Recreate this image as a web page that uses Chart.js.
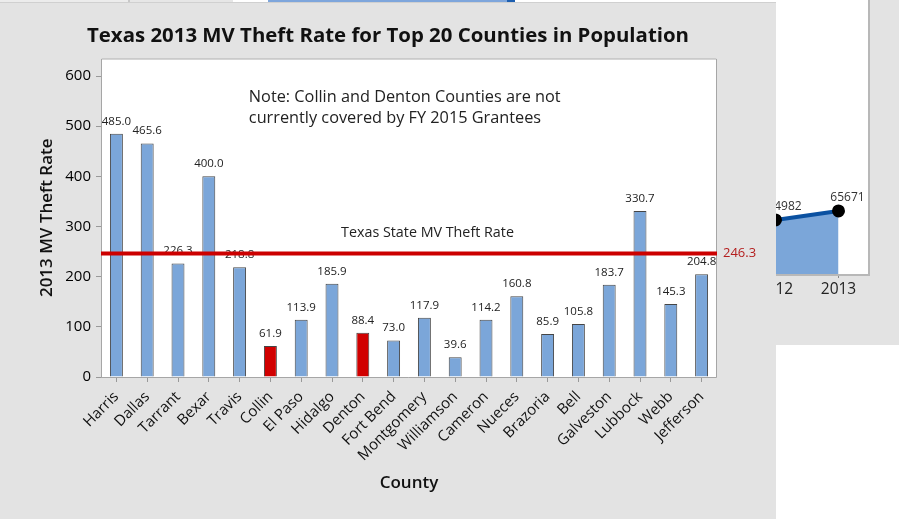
<!DOCTYPE html>
<html lang="en">
<head>
<meta charset="UTF-8">
<title>Texas 2013 MV Theft Rate</title>
<script src="https://cdn.jsdelivr.net/npm/chart.js@4"></script>
<style>
  body { margin:0; width:899px; height:519px; position:relative; overflow:hidden; background:#fff; font-family:'Open Sans', sans-serif; }
  .strip { position:absolute; top:0; height:3px; }
  #back { position:absolute; left:640px; top:0; width:259px; height:345px; background:#e3e3e3; }
  #main { position:absolute; left:0; top:2px; width:776px; height:517px; background:#e3e3e3; border-top:1px solid #d0d0d0; box-sizing:border-box; }
  canvas { display:block; }
</style>
</head>
<body>
<div class="strip" style="left:0;width:128px;background:#ececec"></div>
<div class="strip" style="left:128px;width:2px;background:#c8c8c8"></div>
<div class="strip" style="left:130px;width:103px;background:#e6e6e6"></div>
<div class="strip" style="left:268px;width:239px;background:#7ea6dc"></div>
<div class="strip" style="left:507px;width:8px;background:#1d5fb0"></div>

<div id="back"><canvas id="trendChart" width="259" height="345"></canvas></div>
<div class="strip" style="left:640px;width:136px;background:#fff"></div>
<div id="main"><canvas id="theftChart" width="776" height="516"></canvas></div>

<script>
// --- data ---
const counties = ['Harris', 'Dallas', 'Tarrant', 'Bexar', 'Travis', 'Collin', 'El Paso', 'Hidalgo', 'Denton', 'Fort Bend',
  'Montgomery', 'Williamson', 'Cameron', 'Nueces', 'Brazoria', 'Bell', 'Galveston', 'Lubbock', 'Webb', 'Jefferson'];
const theftRates = [485.0, 465.6, 226.3, 400.0, 218.8, 61.9, 113.9, 185.9, 88.4, 73.0,
  117.9, 39.6, 114.2, 160.8, 85.9, 105.8, 183.7, 330.7, 145.3, 204.8];
const notCovered = ['Collin', 'Denton'];
const stateRate = 246.3;
const yTicks = [0, 100, 200, 300, 400, 500, 600];

// the other window peeking out behind
const trendYears = ['2012', '2013'];
const trendValues = [64982, 65671];

const blue = '#7ba6d9';
const red = '#d10000';

// white plot area with grey frame
const framePlugin = {
  id: 'frame',
  beforeDraw(chart) {
    const { ctx, chartArea: a } = chart;
    ctx.save();
    ctx.fillStyle = '#fff';
    ctx.fillRect(a.left, a.top, a.right - a.left, a.bottom - a.top);
    ctx.restore();
  },
  afterDatasetsDraw(chart, args, opts) {
    const { ctx, chartArea: a } = chart;
    const w = opts.width || 1;
    const h = w / 2;
    ctx.save();
    ctx.strokeStyle = opts.color || '#a6a6a6';
    ctx.lineWidth = w;
    ctx.beginPath();
    if (opts.top !== false) {
      ctx.moveTo(a.left + h, a.bottom);
      ctx.lineTo(a.left + h, a.top + h);
      ctx.lineTo(a.right - h, a.top + h);
    } else {
      ctx.moveTo(a.right - h, a.top);
    }
    ctx.lineTo(a.right - h, a.bottom + h);
    ctx.lineTo(a.left, a.bottom + h);
    ctx.stroke();
    ctx.restore();
  }
};

const barLabels = {
  id: 'barLabels',
  afterDatasetsDraw(chart) {
    const { ctx } = chart;
    const meta = chart.getDatasetMeta(0);
    ctx.save();
    ctx.font = '11.5px "Open Sans"';
    ctx.fillStyle = '#222';
    ctx.textAlign = 'center';
    ctx.textBaseline = 'alphabetic';
    meta.data.forEach((bar, i) => {
      ctx.fillText(theftRates[i].toFixed(1), bar.x, bar.y - 9);
    });

    // state reference line drawn over the labels
    const x = chart.scales.x, y = chart.scales.y;
    const a = chart.chartArea;
    const ry = y.getPixelForValue(stateRate);
    ctx.strokeStyle = '#cc0000';
    ctx.lineWidth = 4;
    ctx.beginPath();
    ctx.moveTo(a.left, ry);
    ctx.lineTo(a.right, ry);
    ctx.stroke();

    ctx.font = '13px "Open Sans"';
    ctx.fillStyle = '#b41e1e';
    ctx.textAlign = 'left';
    ctx.textBaseline = 'middle';
    ctx.fillText(stateRate.toFixed(1), a.right + 6, ry);

    ctx.font = '14.3px "Open Sans"';
    ctx.fillStyle = '#222';
    ctx.textAlign = 'center';
    ctx.fillText('Texas State MV Theft Rate', x.getPixelForValue(10.1), y.getPixelForValue(288));

    ctx.font = '16.3px "Open Sans"';
    ctx.textAlign = 'left';
    const nx = x.getPixelForValue(4.3), ny = y.getPixelForValue(557);
    ctx.fillText('Note: Collin and Denton Counties are not', nx, ny);
    ctx.fillText('currently covered by FY 2015 Grantees', nx, ny + 21);
    ctx.restore();
  }
};

new Chart(document.getElementById('theftChart'), {
  type: 'bar',
  data: {
    labels: counties,
    datasets: [{
      data: theftRates,
      backgroundColor: counties.map(c => notCovered.includes(c) ? red : blue),
      borderColor: '#454545',
      borderWidth: 1,
      barPercentage: 0.42,
      categoryPercentage: 1
    }]
  },
  options: {
    responsive: false,
    animation: false,
    layout: { padding: 0 },
    plugins: {
      legend: { display: false },
      tooltip: { enabled: false },
      title: {
        display: true,
        text: 'Texas 2013 MV Theft Rate for Top 20 Counties in Population',
        color: '#111',
        font: { family: 'Open Sans', size: 20.4, weight: 'bold' },
        padding: { top: 21, bottom: 10 }
      },
      frame: { color: '#a6a6a6', width: 1 }
    },
    scales: {
      x: {
        grid: { offset: false, drawOnChartArea: false, tickLength: 5, color: '#999' },
        border: { display: false },
        ticks: { maxRotation: 45, minRotation: 45, autoSkip: false, padding: 6, color: '#111', font: { family: 'Open Sans', size: 15 } },
        title: { display: true, text: 'County', color: '#111', font: { family: 'Open Sans', size: 17, weight: '600' }, padding: { top: 4, bottom: 26 } },
        afterFit: (axis) => { axis.height = 142; }
      },
      y: {
        min: 0,
        max: 635,
        afterBuildTicks: (axis) => { axis.ticks = yTicks.map(v => ({ value: v })); },
        grid: { drawOnChartArea: false, tickLength: 5, color: '#999' },
        border: { display: false },
        ticks: { padding: 5, color: '#000', font: { family: 'Open Sans', size: 15 } },
        title: { display: true, text: '2013 MV Theft Rate', color: '#111', font: { family: 'Open Sans', size: 17, weight: '600' }, padding: { top: 37, bottom: 0 } },
        afterFit: (axis) => { axis.width = 101; }
      },
      // empty right margin, keeps the title centred on the whole window
      side: {
        position: 'right',
        grid: { display: false },
        border: { display: false },
        ticks: { display: false },
        afterFit: (axis) => { axis.width = 59; }
      }
    }
  },
  plugins: [framePlugin, barLabels]
});

// background window: area chart of the yearly totals
const pointLabels = {
  id: 'pointLabels',
  afterDatasetsDraw(chart) {
    const { ctx } = chart;
    ctx.save();
    ctx.font = '12px "Open Sans"';
    ctx.fillStyle = '#333';
    ctx.textAlign = 'center';
    chart.getDatasetMeta(0).data.forEach((pt, i) => {
      ctx.fillText(String(trendValues[i]), pt.x + 9, pt.y - 10);
    });
    ctx.restore();
  }
};

new Chart(document.getElementById('trendChart'), {
  type: 'line',
  data: {
    labels: trendYears,
    datasets: [{
      data: trendValues,
      fill: 'origin',
      backgroundColor: blue,
      borderColor: '#0b51a1',
      borderWidth: 4,
      pointBackgroundColor: '#000',
      pointBorderColor: '#000',
      pointRadius: 4.5,
      tension: 0
    }]
  },
  options: {
    responsive: false,
    animation: false,
    layout: { autoPadding: false, padding: { left: 104, right: 29, top: 0, bottom: 0 } },
    plugins: {
      legend: { display: false },
      tooltip: { enabled: false },
      frame: { color: '#b8b8b8', width: 2, top: false }
    },
    scales: {
      x: {
        offset: true,
        grid: { offset: false, drawOnChartArea: false, tickLength: 4, color: '#888' },
        border: { display: false },
        ticks: { padding: 2, color: '#222', font: { family: 'Open Sans', size: 15.5 } },
        afterFit: (axis) => { axis.height = 71; }
      },
      y: { display: false, min: 60850, max: 81800 }
    }
  },
  plugins: [framePlugin, pointLabels]
});
</script>
</body>
</html>
